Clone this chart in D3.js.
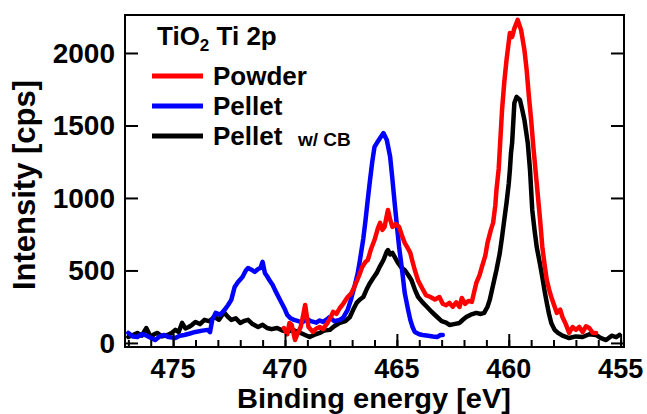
<!DOCTYPE html>
<html>
<head>
<meta charset="utf-8">
<script src="https://cdn.jsdelivr.net/npm/d3@7"></script>
<style>
  body { margin: 0; background: #fff; }
  svg { display: block; font-family: "Liberation Sans", Arial, sans-serif; font-weight: bold; }
</style>
</head>
<body>
<svg id="chart" width="647" height="414"></svg>
<script>
// Ti 2p spectra, [binding energy (eV), intensity (cps)]
const powder = [
  [470.05, 103], [469.9, 60], [469.8, 138], [469.7, 124], [469.55, 20], [469.45, 60], [469.3, 110],
  [469.2, 180], [469.1, 262], [469.0, 160], [468.95, 110], [468.75, 76], [468.6, 100], [468.45, 110],
  [468.3, 95], [468.1, 138], [467.95, 180], [467.85, 214], [467.7, 200], [467.55, 241], [467.4, 270],
  [467.2, 317], [467.05, 340], [466.9, 386], [466.7, 460], [466.55, 524], [466.4, 560], [466.3, 572],
  [466.15, 650], [466.0, 710], [465.85, 790], [465.75, 828], [465.65, 780], [465.55, 800], [465.45, 880],
  [465.4, 917], [465.3, 850], [465.2, 800], [465.05, 820], [464.9, 800], [464.75, 730], [464.65, 690],
  [464.5, 650], [464.4, 621], [464.3, 560], [464.2, 503], [464.05, 430], [463.9, 386], [463.7, 330],
  [463.5, 317], [463.3, 300], [463.1, 317], [462.95, 270], [462.8, 260], [462.65, 276], [462.5, 250],
  [462.35, 280], [462.2, 248], [462.1, 310], [461.95, 270], [461.8, 290], [461.65, 283], [461.55, 350],
  [461.45, 414], [461.3, 470], [461.2, 524], [461.05, 600], [460.95, 690], [460.8, 780], [460.7, 828],
  [460.6, 950], [460.55, 1055], [460.45, 1200], [460.3, 1607], [460.2, 1800], [460.1, 1952],
  [459.95, 2138], [459.85, 2110], [459.75, 2170], [459.6, 2228], [459.45, 2159], [459.3, 2020],
  [459.2, 1883], [459.1, 1700], [459.0, 1538], [458.9, 1350], [458.75, 1100], [458.6, 850], [458.5, 662],
  [458.4, 540], [458.3, 434], [458.2, 370], [458.1, 317], [457.95, 250], [457.85, 207], [457.7, 230],
  [457.6, 179], [457.45, 130], [457.3, 69], [457.15, 110], [457.0, 90], [456.85, 110], [456.7, 75],
  [456.55, 115], [456.4, 103], [456.25, 70], [456.1, 69]
];

const pellet = [
  [477.0, 69], [476.8, 45], [476.6, 41], [476.4, 60], [476.25, 55], [476.0, 35], [475.8, 20], [475.6, 45],
  [475.4, 55], [475.2, 40], [474.9, 34], [474.7, 50], [474.5, 55], [474.25, 65], [474.0, 76], [473.7, 85],
  [473.45, 90], [473.35, 75], [473.25, 160], [473.1, 207], [472.9, 195], [472.7, 228], [472.55, 260],
  [472.4, 297], [472.25, 386], [472.1, 420], [471.9, 455], [471.75, 500], [471.65, 517], [471.5, 505],
  [471.35, 490], [471.2, 510], [471.1, 517], [471.0, 559], [470.9, 483], [470.8, 460], [470.7, 434],
  [470.55, 400], [470.45, 366], [470.3, 320], [470.15, 276], [470.0, 230], [469.9, 193], [469.75, 170],
  [469.6, 159], [469.4, 150], [469.2, 145], [469.0, 165], [468.85, 150], [468.6, 140], [468.45, 155],
  [468.3, 145], [468.15, 160], [468.0, 179], [467.8, 150], [467.55, 159], [467.4, 175], [467.2, 228],
  [467.05, 300], [466.9, 386], [466.75, 480], [466.65, 572], [466.5, 720], [466.4, 848], [466.3, 990],
  [466.2, 1124], [466.1, 1250], [466.0, 1352], [465.85, 1390], [465.75, 1414], [465.6, 1448],
  [465.45, 1400], [465.3, 1283], [465.2, 1130], [465.1, 966], [465.0, 810], [464.9, 662], [464.75, 480],
  [464.65, 345], [464.5, 230], [464.4, 159], [464.3, 110], [464.2, 76], [464.0, 60], [463.85, 55],
  [463.6, 50], [463.4, 45], [463.2, 41], [463.05, 55], [462.95, 55]
];

const pelletCB = [
  [477.0, 41], [476.8, 55], [476.6, 69], [476.4, 50], [476.2, 103], [476.0, 41], [475.85, 60], [475.7, 69],
  [475.5, 45], [475.25, 55], [475.05, 70], [474.9, 90], [474.75, 75], [474.6, 138], [474.45, 100],
  [474.3, 110], [474.15, 125], [474.0, 145], [473.8, 130], [473.6, 159], [473.4, 150], [473.15, 179],
  [472.95, 160], [472.8, 195], [472.7, 207], [472.55, 180], [472.4, 159], [472.2, 170], [472.0, 138],
  [471.85, 150], [471.65, 159], [471.45, 130], [471.2, 110], [471.0, 125], [470.8, 103], [470.6, 95],
  [470.35, 103], [470.1, 85], [469.9, 76], [469.65, 90], [469.45, 76], [469.3, 69], [469.1, 55],
  [468.9, 41], [468.7, 55], [468.45, 69], [468.25, 85], [468.0, 90], [467.8, 115], [467.55, 138],
  [467.3, 150], [467.1, 179], [466.95, 230], [466.8, 276], [466.65, 300], [466.5, 317], [466.35, 370],
  [466.2, 414], [466.05, 450], [465.9, 483], [465.75, 530], [465.6, 572], [465.45, 630], [465.4, 641],
  [465.3, 610], [465.2, 621], [465.05, 580], [464.95, 552], [464.8, 520], [464.65, 503], [464.5, 470],
  [464.35, 434], [464.2, 370], [464.05, 317], [463.85, 280], [463.65, 248], [463.45, 215], [463.2, 179],
  [463.0, 150], [462.8, 140], [462.65, 124], [462.45, 130], [462.2, 138], [462.05, 160], [461.9, 179],
  [461.7, 195], [461.45, 207], [461.25, 200], [461.1, 207], [460.95, 250], [460.85, 297], [460.7, 400],
  [460.55, 503], [460.4, 620], [460.3, 731], [460.2, 850], [460.1, 966], [460.0, 1100], [459.95, 1193],
  [459.9, 1310], [459.85, 1379], [459.75, 1655], [459.65, 1697], [459.5, 1676], [459.4, 1610],
  [459.3, 1538], [459.15, 1379], [459.05, 1193], [458.95, 917], [458.85, 780], [458.75, 662],
  [458.6, 540], [458.5, 455], [458.4, 360], [458.3, 276], [458.2, 200], [458.1, 138], [457.95, 90],
  [457.8, 69], [457.6, 50], [457.3, 34], [457.0, 45], [456.7, 41], [456.4, 60], [456.1, 55], [455.9, 35],
  [455.65, 20], [455.4, 50], [455.2, 40], [455.05, 55]
];

// Ticks and labels
const xMajorTicks = [475, 470, 465, 460, 455];
const xMinorTicks = d3.range(455, 478, 1);
const yTicks = [0, 500, 1000, 1500, 2000];
const legendLabels = ['Powder', 'Pellet', 'Pellet'];
const legendColors = ['#ff0000', '#0000ff', '#000000'];

const svg = d3.select('#chart');

// Plot frame
const frame = { left: 125, right: 624, top: 15, bottom: 347 };

const x = d3.scaleLinear().domain([477.15, 454.85]).range([frame.left, frame.right]);
const y = d3.scaleLinear().domain([-28, 2262]).range([frame.bottom, frame.top]);

/** Adds bold text */
function addText(px, py, str, size, anchor = 'start') {
  return svg.append('text')
    .attr('x', px)
    .attr('y', py)
    .attr('text-anchor', anchor)
    .attr('font-size', size)
    .attr('fill', '#000')
    .text(str);
}

// Curves
const line = d3.line()
  .x(d => x(d[0]))
  .y(d => y(d[1]));

[[pelletCB, '#000000'], [pellet, '#0000ff'], [powder, '#ff0000']].forEach(([data, color]) => {
  svg.append('path')
    .datum(data)
    .attr('d', line)
    .attr('fill', 'none')
    .attr('stroke', color)
    .attr('stroke-width', 4.5)
    .attr('stroke-linejoin', 'round')
    .attr('stroke-linecap', 'round');
});

// Frame
svg.append('rect')
  .attr('x', frame.left).attr('y', frame.top)
  .attr('width', frame.right - frame.left).attr('height', frame.bottom - frame.top)
  .attr('fill', 'none')
  .attr('stroke', '#000')
  .attr('stroke-width', 2);

// Bottom ticks (inward)
svg.append('g')
  .attr('transform', `translate(0,${frame.bottom})`)
  .call(d3.axisBottom(x).tickValues(xMinorTicks).tickSize(-7).tickFormat(''))
  .call(g => g.select('.domain').remove())
  .call(g => g.selectAll('line').attr('stroke-width', 2));

svg.append('g')
  .attr('transform', `translate(0,${frame.bottom})`)
  .call(d3.axisBottom(x).tickValues(xMajorTicks).tickSize(-13).tickFormat(''))
  .call(g => g.select('.domain').remove())
  .call(g => g.selectAll('line').attr('stroke-width', 2));

// Left and right ticks
svg.append('g')
  .attr('transform', `translate(${frame.left},0)`)
  .call(d3.axisLeft(y).tickValues(yTicks).tickSize(-13).tickFormat(''))
  .call(g => g.select('.domain').remove())
  .call(g => g.selectAll('line').attr('stroke-width', 2));

svg.append('g')
  .attr('transform', `translate(${frame.right},0)`)
  .call(d3.axisRight(y).tickValues(yTicks).tickSize(-13).tickFormat(''))
  .call(g => g.select('.domain').remove())
  .call(g => g.selectAll('line').attr('stroke-width', 2));

// Tick labels
xMajorTicks.forEach(t => addText(x(t), 378, t, 27, 'middle'));
yTicks.forEach(t => addText(115, y(t) + 10, t, 28, 'end'));

// Axis titles
addText(374, 408, 'Binding energy [eV]', 27, 'middle')
  .attr('textLength', 274)
  .attr('lengthAdjust', 'spacingAndGlyphs');

svg.append('text')
  .attr('transform', 'translate(35,185) rotate(-90)')
  .attr('text-anchor', 'middle')
  .attr('font-size', 31)
  .text('Intensity [cps]');

// Legend
const title = addText(157, 45, '', 26);
title.append('tspan').text('TiO');
title.append('tspan').attr('font-size', 17).attr('dy', 6).text('2');
title.append('tspan').attr('dy', -6).text(' Ti 2p');

const legendY = [76, 106, 136];
legendLabels.forEach((label, i) => {
  svg.append('line')
    .attr('x1', 152).attr('x2', 203)
    .attr('y1', legendY[i]).attr('y2', legendY[i])
    .attr('stroke', legendColors[i])
    .attr('stroke-width', 5);
  addText(213, legendY[i] + 9, label, 26);
});
addText(298, 146, 'w/ CB', 19);
</script>
</body>
</html>
